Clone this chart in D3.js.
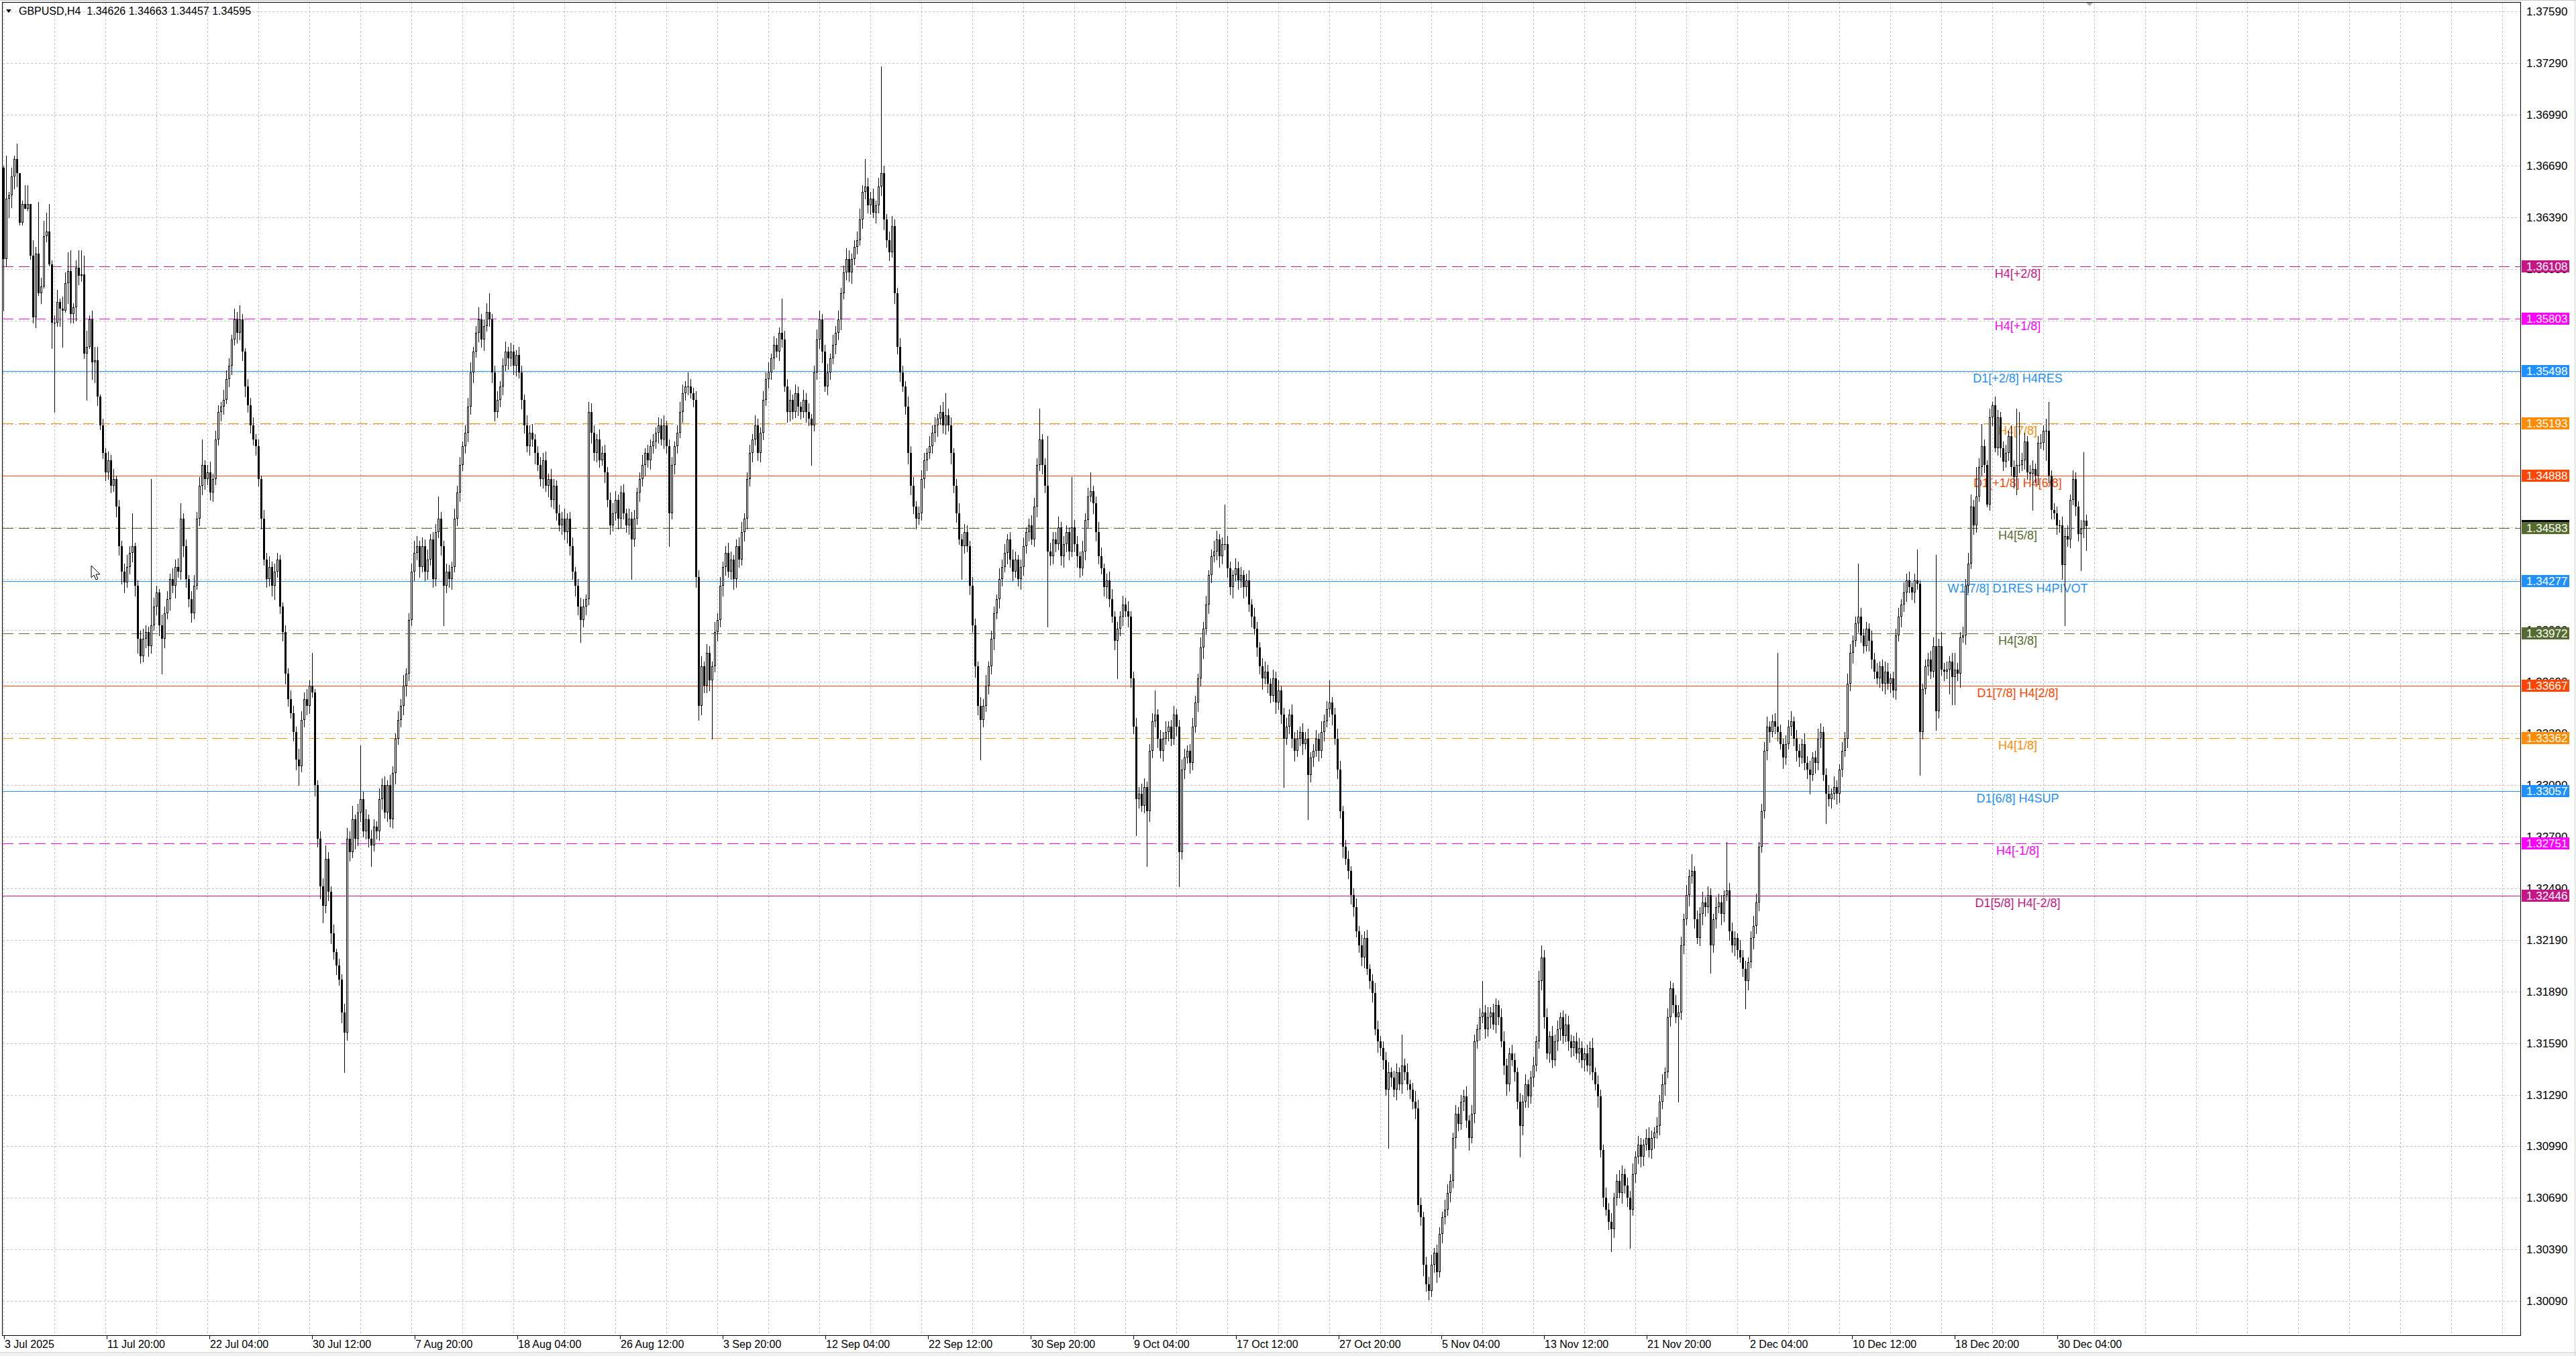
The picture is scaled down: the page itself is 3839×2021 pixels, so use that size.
<!DOCTYPE html>
<html><head><meta charset="utf-8">
<script src="https://cdn.jsdelivr.net/npm/d3@7"></script>
<style>html,body{margin:0;padding:0;background:#fff;overflow:hidden}</style>
</head><body>
<svg id="c" width="3839" height="2021" xmlns="http://www.w3.org/2000/svg"></svg>
<script>
// ---------------- DATA ----------------
const symbolTitle = "GBPUSD,H4";
const lastOHLC = [1.34626, 1.34663, 1.34457, 1.34595];
const firstOpen = 1.3668;
const closes = [
1.3615,1.3650,1.3652,1.3663,1.3673,1.3665,1.3636,1.3647,1.3644,1.3647,
1.3617,1.3581,1.3618,1.3595,1.3599,1.3628,1.3631,1.3612,1.3578,1.3578,
1.3590,1.3586,1.3585,1.3601,1.3608,1.3583,1.3587,1.3610,1.3605,1.3606,
1.3560,1.3564,1.3580,1.3555,1.3556,1.3535,1.3518,1.3502,1.3491,1.3498,
1.3483,1.3487,1.3471,1.3448,1.3433,1.3427,1.3436,1.3444,1.3448,1.3425,
1.3394,1.3384,1.3394,1.3398,1.3390,1.3402,1.3413,1.3421,1.3402,1.3394,
1.3409,1.3417,1.3429,1.3425,1.3436,1.3433,1.3464,1.3448,1.3429,1.3417,
1.3409,1.3425,1.3464,1.3483,1.3495,1.3487,1.3491,1.3479,1.3487,1.3510,
1.3526,1.3529,1.3533,1.3545,1.3553,1.3568,1.3580,1.3572,1.3580,1.3561,
1.3541,1.3530,1.3518,1.3510,1.3506,1.3487,1.3464,1.3440,1.3429,1.3436,1.3425,
1.3433,1.3440,1.3413,1.3398,1.3374,1.3359,1.3351,1.3340,1.3324,1.3320,
1.3347,1.3359,1.3355,1.3367,1.3363,1.3309,1.3278,1.3250,1.3239,1.3266,
1.3247,1.3223,1.3212,1.3204,1.3196,1.3177,1.3165,1.3278,1.3270,1.3289,
1.3278,1.3293,1.3301,1.3282,1.3289,1.3278,1.3274,1.3285,1.3282,1.3301,
1.3309,1.3293,1.3309,1.3289,1.3316,1.3336,1.3347,1.3355,1.3367,1.3374,
1.3405,1.3433,1.3444,1.3448,1.3436,1.3448,1.3433,1.3440,1.3452,1.3429,
1.3456,1.3464,1.3448,1.3425,1.3433,1.3429,1.3436,1.3464,1.3479,1.3495,
1.3506,1.3514,1.3529,1.3549,1.3561,1.3572,1.3580,1.3568,1.3576,1.3584,
1.3580,1.3549,1.3526,1.3533,1.3541,1.3553,1.3561,1.3557,1.3561,1.3553,
1.3559,1.3549,1.3533,1.3518,1.3506,1.3514,1.3510,1.3502,1.3495,1.3487,
1.3498,1.3483,1.3487,1.3475,1.3483,1.3467,1.3460,1.3464,1.3456,1.3464,
1.3448,1.3433,1.3425,1.3413,1.3405,1.3413,1.3417,1.3526,1.3514,1.3502,
1.3510,1.3498,1.3502,1.3491,1.3475,1.3460,1.3467,1.3475,1.3464,1.3479,
1.3467,1.3460,1.3464,1.3452,1.3464,1.3479,1.3487,1.3495,1.3502,1.3498,
1.3506,1.3509,1.3514,1.3518,1.3510,1.3518,1.3506,1.3467,1.3495,1.3506,1.3514,
1.3526,1.3537,1.3541,1.3541,1.3537,1.3533,1.3430,1.3355,1.3378,1.3367,
1.3386,1.3370,1.3378,1.3398,1.3405,1.3425,1.3436,1.3444,1.3433,1.3440,
1.3429,1.3448,1.3440,1.3456,1.3464,1.3487,1.3502,1.3510,1.3518,1.3502,
1.3514,1.3533,1.3545,1.3549,1.3557,1.3565,1.3561,1.3572,1.3568,1.3541,
1.3526,1.3533,1.3526,1.3537,1.3529,1.3526,1.3533,1.3526,1.3522,1.3518,
1.3549,1.3568,1.3580,1.3561,1.3541,1.3549,1.3557,1.3565,1.3572,1.3580,
1.3595,1.3607,1.3615,1.3607,1.3615,1.3622,1.3626,1.3638,1.3654,1.3657,
1.3646,1.3650,1.3642,1.3646,1.3657,1.3665,1.3638,1.3626,1.3619,1.3634,
1.3595,1.3564,1.3549,1.3541,1.3529,1.3502,1.3483,1.3471,1.3464,1.3467,
1.3487,1.3498,1.3502,1.3506,1.3514,1.3518,1.3522,1.3526,1.3518,1.3524,
1.3518,1.3502,1.3483,1.3467,1.3452,1.3448,1.3456,1.3448,1.3425,1.3402,
1.3378,1.3355,1.3347,1.3355,1.3367,1.3378,1.3394,1.3409,1.3417,1.3429,
1.3436,1.3444,1.3452,1.3440,1.3433,1.3440,1.3429,1.3436,1.3448,1.3456,
1.3460,1.3452,1.3471,1.3495,1.3510,1.3495,1.3483,1.3445,1.3442,1.3452,1.3449,
1.3459,1.3442,1.3449,1.3456,1.3445,1.3459,1.3449,1.3442,1.3435,1.3445,
1.3463,1.3477,1.3480,1.3473,1.3456,1.3442,1.3435,1.3424,1.3428,1.3417,
1.3407,1.3393,1.3400,1.3407,1.3414,1.3410,1.3407,1.3371,1.3343,1.3301,
1.3304,1.3297,1.3308,1.3294,1.3329,1.3346,1.3350,1.3336,1.3329,1.3336,
1.3340,1.3343,1.3336,1.3350,1.3343,1.3270,1.3318,1.3325,1.3329,1.3322,
1.3343,1.3357,1.3371,1.3389,1.3400,1.3414,1.3431,1.3442,1.3445,1.3452,
1.3442,1.3449,1.3449,1.3435,1.3424,1.3431,1.3435,1.3428,1.3431,1.3424,
1.3428,1.3414,1.3407,1.3400,1.3389,1.3378,1.3371,1.3375,1.3368,1.3361,
1.3371,1.3357,1.3364,1.3350,1.3336,1.3343,1.3350,1.3336,1.3329,1.3336,
1.3340,1.3333,1.3336,1.3315,1.3325,1.3329,1.3336,1.3329,1.3340,1.3346,
1.3353,1.3357,1.3350,1.3336,1.3318,1.3294,1.3273,1.3266,1.3259,1.3245,
1.3238,1.3224,1.3216,1.3209,1.3220,1.3202,1.3195,1.3188,1.3167,1.3160,
1.3156,1.3149,1.3132,1.3142,1.3139,1.3132,1.3142,1.3135,1.3146,1.3142,
1.3135,1.3132,1.3125,1.3121,1.3065,1.3058,1.3030,1.3019,1.3015,1.3030,
1.3037,1.3026,1.3048,1.3058,1.3062,1.3072,1.3079,1.3104,1.3118,1.3112,1.3125,
1.3128,1.3114,1.3104,1.3118,1.3160,1.3167,1.3174,1.3177,1.3167,1.3174,
1.3177,1.3170,1.3181,1.3174,1.3160,1.3146,1.3135,1.3153,1.3149,1.3142,
1.3125,1.3111,1.3125,1.3135,1.3128,1.3139,1.3146,1.3160,1.3195,1.3209,
1.3174,1.3153,1.3163,1.3149,1.3160,1.3167,1.3174,1.3163,1.3170,1.3160,
1.3156,1.3160,1.3153,1.3156,1.3149,1.3153,1.3146,1.3156,1.3142,1.3135,
1.3128,1.3097,1.3069,1.3062,1.3055,1.3051,1.3069,1.3079,1.3072,1.3083,
1.3076,1.3069,1.3062,1.3083,1.3093,1.3100,1.3093,1.3100,1.3104,1.3097,
1.3104,1.3107,1.3111,1.3125,1.3135,1.3142,1.3174,1.3191,1.3181,1.3174,
1.3177,1.3216,1.3231,1.3245,1.3256,1.3259,1.3231,1.3220,1.3234,1.3241,
1.3238,1.3245,1.3216,1.3231,1.3238,1.3241,1.3234,1.3245,1.3248,1.3224,
1.3216,1.3220,1.3213,1.3209,1.3202,1.3195,1.3206,1.3220,1.3227,1.3241,
1.3273,1.3294,1.3329,1.3343,1.3340,1.3346,1.3343,1.3340,1.3333,1.3325,
1.3333,1.3343,1.3346,1.3336,1.3329,1.3325,1.3333,1.3322,1.3318,1.3315,
1.3325,1.3322,1.3336,1.3340,1.3315,1.3304,1.3301,1.3304,1.3308,1.3304,
1.3318,1.3329,1.3336,1.3368,1.3386,1.3393,1.3403,1.3407,1.3396,1.3390,1.3400,
1.3393,1.3382,1.3375,1.3371,1.3378,1.3368,1.3375,1.3368,1.3371,1.3364,
1.3396,1.3407,1.3414,1.3421,1.3428,1.3424,1.3421,1.3428,1.3426,1.3340,
1.3365,1.3378,1.3382,1.3375,1.3390,1.3352,1.3390,1.3376,1.3375,1.3376,
1.3381,1.3372,1.3376,1.3374,1.3395,1.3396,1.3425,1.3438,1.3471,1.3460,
1.3477,1.3494,1.3506,1.3495,1.3472,1.3523,1.3530,1.3505,1.3523,1.3505,
1.3497,1.3502,1.3512,1.3494,1.3488,1.3495,1.3495,1.3498,1.3509,1.3491,
1.3490,1.3493,1.3489,1.3508,1.3508,1.3515,1.3515,1.3489,1.3469,1.3467,
1.3460,1.3460,1.3437,1.3454,1.3452,1.3475,1.3487,1.3471,1.3455,1.3458,1.34626,1.34595
];
// wick lengths in pips above the body top / below the body bottom
const wickUp = [
1,25,2,5,2,9,0,2,11,11, 0,9,4,30,5,9,11,16,2,4, 7,2,7,6,11,12,2,4,10,14, 11,9,2,5,8,8,1,4,3,5,
3,6,2,4,3,5,7,4,19,2, 3,5,6,4,3,85,5,4,2,6,
4,5,3,6,4,5,9,3,4,2, 5,6,4,5,15,3,4,6,3,5,
4,3,6,5,4,3,6,4,8,3, 2,4,4,5,3,4,2,5,4,6,3,
5,4,3,2,4,3,5,4,3,6, 5,4,6,3,19,2,3,4,5,8,
4,3,5,2,4,3,5,6,4,8, 3,5,31,4,6,3,5,4,3,6,
4,5,3,6,4,3,5,4,6,3, 4,5,7,6,3,5,4,6,3,4,
5,13,4,3,5,4,3,6,4,5, 3,4,5,6,3,4,7,3,4,5,
11,3,4,5,3,4,6,3,5,4, 3,5,4,3,6,4,5,3,4,5,
4,5,3,6,4,3,5,4,6,3, 4,5,3,4,5,4,3,6,5,4,
3,6,4,5,3,4,6,5,3,4, 5,3,6,4,5,3,4,6,3,5,
4,4,3,5,4,6,3,4,5,3,4, 6,5,3,8,4,3,5,4,6,3,
5,4,3,6,4,5,3,4,6,5, 3,4,5,6,3,4,5,3,6,4,
3,5,4,6,3,5,4,3,20,5, 4,6,3,5,4,3,6,4,5,3,
4,6,5,3,4,5,3,6,4,5, 3,4,6,5,3,4,5,6,4,16,
5,4,6,3,5,62,4,3,5,6, 4,3,5,4,3,6,4,5,3,4,
5,4,3,6,4,5,3,4,6,13, 4,5,3,4,6,3,5,4,3,5,
4,3,5,4,6,3,5,4,3,6, 4,5,3,4,6,5,3,4,5,3,
4,6,5,4,18,3,4,29,5,4, 4,6,3,5,4,3,29,4,5,3,6,
4,5,11,3,4,6,5,3,4,5, 6,3,4,3,5,4,6,3,4,5,
4,6,5,3,4,5,14,3,5,4, 6,3,4,5,3,4,6,5,3,4,
5,4,3,6,4,5,3,4,6,5, 3,4,23,5,4,3,6,4,5,3,
4,6,3,5,4,3,5,6,4,3, 5,4,6,3,4,5,3,6,4,5,
3,5,4,6,3,4,5,3,6,4, 5,13,3,4,6,5,3,4,5,3,
4,5,3,6,4,5,3,4,6,5, 3,4,5,6,3,4,5,3,18,4,
5,3,4,6,5,4,3,5,4,6, 3,5,4,3,6,5,4,3,5,4,4,
4,6,3,5,4,3,5,18,4,6, 3,5,4,3,5,6,4,3,5,4,
3,5,4,6,3,4,5,3,6,7, 4,5,3,6,4,5,3,4,6,5,
4,3,5,6,4,3,5,4,6,3, 5,4,3,6,4,5,3,4,6,5,
3,5,4,6,3,5,4,3,5,6, 4,3,5,4,6,3,5,4,3,6,
4,5,3,6,4,10,3,5,4,6, 3,5,4,3,6,5,4,3,28,4,
5,4,3,6,4,5,3,4,6,5, 3,4,5,6,3,4,5,43,4,3,
5,4,6,3,5,4,3,6,4,5, 3,4,6,5,3,4,5,3,6,4,
3,5,4,6,5,3,4,31,5,4, 4,3,6,4,5,3,4,6,5,3,4,
4,5,3,6,4,5,3,4,18,2, 3,4,4,5,5,53,4,8,4,5,
3,5,10,4,3,5,4,6,7,4, 17,5,13,4,3,5,2,5,4,3,
4,5,3,6,4,33,31,4,5,3, 4,5,3,4,5,3,7,17,3,4,
4,3,5,4,6,3,5,4,3,5,40,3.7
];
const wickDn = [
30,4,11,7,7,8,1,1,0,1, 2,3,6,1,6,1,3,1,15,52, 2,10,21,1,12,5,5,8,5,3, 3,27,1,10,12,5,2,3,5,4,
4,3,6,5,7,6,3,4,5,6, 8,4,3,5,6,4,3,5,6,20,
5,3,6,4,7,3,4,6,5,4, 5,3,2,4,5,6,3,4,5,3,
3,5,4,2,4,5,3,6,4,5, 6,4,4,3,5,4,6,3,5,4,6,
8,3,4,5,6,4,3,5,6,11, 3,4,5,4,3,6,5,7,10,4,
5,6,4,5,3,6,23,4,5,3, 6,4,5,3,4,5,12,3,4,5,
6,3,5,4,5,6,3,4,5,6, 4,3,5,4,6,3,5,4,3,5,
4,3,5,23,4,5,6,3,4,5, 3,4,5,4,6,3,5,4,6,3,
4,6,5,3,4,5,3,6,4,5, 6,3,5,4,3,5,4,6,3,4,
5,3,6,4,5,4,3,5,4,6, 5,4,6,5,13,4,5,3,6,4,
5,4,3,6,4,5,3,4,6,5, 3,4,5,23,4,3,5,4,6,4,
5,4,4,6,3,5,4,19,3,5,4, 3,6,4,5,3,4,6,8,5,4,
4,6,34,3,5,4,6,5,3,4, 6,5,4,3,5,6,4,5,3,4,
5,4,3,5,4,6,3,5,4,3, 6,5,4,3,5,4,3,6,4,23,
3,4,5,6,3,5,4,3,5,4, 6,3,4,5,6,3,4,3,5,4,
4,5,3,6,4,5,6,4,5,3, 6,4,5,3,4,6,5,4,6,3,
4,5,6,3,4,5,6,3,4,5, 3,6,4,5,3,19,4,3,5,4,
6,5,23,4,3,5,4,6,3,5, 4,3,6,4,5,3,4,6,5,4,
5,3,4,6,3,5,4,44,5,4, 4,3,5,6,4,5,3,4,6,5,4,
5,4,3,6,5,4,3,5,6,4, 3,5,22,4,5,3,6,5,4,21,
5,3,4,32,6,4,3,5,4,6, 3,5,4,3,5,20,4,5,3,6,
4,3,5,4,6,3,5,4,3,5, 6,4,3,5,4,6,3,5,4,6,
5,4,6,3,5,4,6,3,5,4, 3,6,4,5,28,3,4,5,6,3,
4,6,3,26,4,5,3,6,4,5, 3,4,6,3,5,4,6,3,4,5,
5,3,4,5,6,3,4,5,3,6, 4,5,3,34,5,4,6,3,5,4,
3,5,4,6,4,5,6,4,5,3, 4,6,3,5,4,3,5,4,6,4,3,
5,4,7,3,5,4,6,3,5,4, 6,3,5,4,3,5,6,4,3,5,
4,18,5,3,6,4,5,3,4,5, 6,3,5,4,3,5,6,4,3,5,
5,4,3,5,4,6,3,5,4,3, 6,4,5,3,4,13,5,4,3,6,
4,5,22,3,5,4,6,5,3,4, 5,6,3,5,4,6,3,5,4,3,
49,4,5,3,6,4,5,3,4,6, 5,3,16,4,5,3,6,4,3,5,
4,6,5,3,4,16,5,3,6,4, 5,3,4,5,6,3,4,5,3,6,
4,3,5,4,6,5,3,4,5,11, 3,6,4,5,3,17,4,5,3,6,
5,4,3,5,4,6,3,5,4,4, 3,6,5,4,3,5,4,6,3,5,4,
5,3,6,4,5,3,4,6,3,25, 4,3,5,4,3,11,4,3,5,4,
14,16,16,4,8,3,5,4,3,5, 4,3,5,4,1,3,5,2,4,5,
5,3,4,5,6,10,4,3,5,4, 3,21,4,5,3,4,17,4,5,3,
5,4,8,35,4,5,3,5,4,21,5,13.8
];
const timeLabels = ["3 Jul 2025","11 Jul 20:00","22 Jul 04:00","30 Jul 12:00","7 Aug 20:00","18 Aug 04:00","26 Aug 12:00","3 Sep 20:00","12 Sep 04:00","22 Sep 12:00","30 Sep 20:00","9 Oct 04:00","17 Oct 12:00","27 Oct 20:00","5 Nov 04:00","13 Nov 12:00","21 Nov 20:00","2 Dec 04:00","10 Dec 12:00","18 Dec 20:00","30 Dec 04:00"];
const barsPerLabel = 38.25;
const priceTicks = [1.37590,1.37290,1.36990,1.36690,1.36390,1.36090,1.35790,1.35490,1.35190,1.34890,1.34590,1.34290,1.33990,1.33690,1.33390,1.33090,1.32790,1.32490,1.32190,1.31890,1.31590,1.31290,1.30990,1.30690,1.30390,1.30090];
const levelPrices = [1.36108,1.35803,1.35498,1.35193,1.34888,1.34583,1.34277,1.33972,1.33667,1.33362,1.33057,1.32751,1.32446];
const levelNames = ["H4[+2/8]","H4[+1/8]","D1[+2/8] H4RES","H4[7/8]","D1[+1/8] H4[6/8]","H4[5/8]","W1[7/8] D1RES H4PIVOT","H4[3/8]","D1[7/8] H4[2/8]","H4[1/8]","D1[6/8] H4SUP","H4[-1/8]","D1[5/8] H4[-2/8]"];

// ---------------- STYLE ----------------
const levelColors = ["#C71585","#FF00FF","#1E90FF","#FF8C00","#FF4500","#556B2F","#1E90FF","#556B2F","#FF4500","#FF8C00","#1E90FF","#FF00FF","#C71585"];
const levelDashed = [true,true,false,true,false,true,false,true,false,true,false,true,false];
const FONT = "'Liberation Sans', Arial, sans-serif";
const L = 4, T = 4, R = 3756, B = 1990;

// ---------------- BUILD BARS ----------------
const n = Math.min(closes.length, wickUp.length, wickDn.length);
const bars = [];
for (let i = 0; i < n; i++) {
  let o = i === 0 ? firstOpen : closes[i-1];
  let c = closes[i];
  let h = Math.max(o, c) + wickUp[i] * 1e-4;
  let l = Math.min(o, c) - wickDn[i] * 1e-4;
  if (i === n - 1) { o = lastOHLC[0]; h = lastOHLC[1]; l = lastOHLC[2]; c = lastOHLC[3]; }
  bars.push({i, o, h, l, c});
}

// ---------------- SCALES ----------------
const x = d3.scaleLinear().domain([0, (R - 5) / 4]).range([5, R]);
const y = d3.scaleLinear().domain([1.30090, 1.37590]).range([1939.2, 16.7]);

const svg = d3.select("#c");
svg.append("rect").attr("width", 3839).attr("height", 2021).attr("fill", "#fff");
svg.append("rect").attr("x", 0).attr("y", 2015).attr("width", 3839).attr("height", 6).attr("fill", "#f0f0f0");
svg.append("line").attr("x1", 0).attr("x2", 3839).attr("y1", 2015.5).attr("y2", 2015.5).attr("stroke", "#d8d8d8");
svg.append("line").attr("x1", 0).attr("x2", 3839).attr("y1", 0.5).attr("y2", 0.5).attr("stroke", "#c8c8c8");
svg.append("line").attr("x1", 3837.5).attr("x2", 3837.5).attr("y1", 0).attr("y2", 2021).attr("stroke", "#d0d0d0");

svg.append("defs").append("clipPath").attr("id", "plot")
  .append("rect").attr("x", L).attr("y", T).attr("width", R - L).attr("height", B - T);
const plot = svg.append("g").attr("clip-path", "url(#plot)");

// grid
const gridG = plot.append("g").attr("stroke", "#c4c4c4").attr("stroke-width", 1)
  .attr("stroke-dasharray", "3,3").attr("shape-rendering", "crispEdges");
const vIdx = d3.range(0, (R - 5) / 4, 19);
gridG.selectAll("line.v").data(vIdx).join("line").attr("class", "v")
  .attr("x1", d => Math.round(x(d)) + 0.5).attr("x2", d => Math.round(x(d)) + 0.5)
  .attr("y1", T).attr("y2", B);
gridG.selectAll("line.h").data(priceTicks).join("line").attr("class", "h")
  .attr("x1", L).attr("x2", R)
  .attr("y1", d => Math.round(y(d)) + 0.5).attr("y2", d => Math.round(y(d)) + 0.5);

// level lines + texts (behind candles)
const lv = levelPrices.map((p, k) => ({p, name: levelNames[k], color: levelColors[k], dashed: levelDashed[k]}));
plot.append("g").selectAll("line").data(lv).join("line")
  .attr("x1", L).attr("x2", R)
  .attr("y1", d => Math.round(y(d.p)) + 0.5).attr("y2", d => Math.round(y(d.p)) + 0.5)
  .attr("stroke", d => d.color).attr("stroke-width", 1)
  .attr("stroke-dasharray", d => d.dashed ? "16,8" : null)
  .attr("shape-rendering", "crispEdges");
plot.append("g").selectAll("text").data(lv).join("text")
  .attr("x", 3007).attr("y", d => Math.round(y(d.p)) + 17)
  .attr("text-anchor", "middle").attr("font-family", FONT).attr("font-size", 18)
  .attr("fill", d => d.color).text(d => d.name);

// candles
const cg = plot.append("g").attr("shape-rendering", "crispEdges");
cg.selectAll("line.w").data(bars).join("line").attr("class", "w")
  .attr("x1", d => Math.round(x(d.i)) + 0.5).attr("x2", d => Math.round(x(d.i)) + 0.5)
  .attr("y1", d => Math.round(y(d.h))).attr("y2", d => Math.round(y(d.l)) + 1)
  .attr("stroke", "#000").attr("stroke-width", 1);
cg.selectAll("rect.b").data(bars).join("rect").attr("class", "b")
  .each(function(d) {
    const px = Math.round(x(d.i));
    const yt = Math.round(y(Math.max(d.o, d.c)));
    const yb = Math.round(y(Math.min(d.o, d.c)));
    const hgt = yb - yt;
    const sel = d3.select(this);
    if (d.c > d.o && hgt >= 2) {
      sel.attr("x", px - 0.5).attr("y", yt + 0.5).attr("width", 2).attr("height", hgt - 1)
        .attr("fill", "#fff").attr("stroke", "#000").attr("stroke-width", 1);
    } else {
      sel.attr("x", px - 1).attr("y", yt).attr("width", 3).attr("height", Math.max(1, hgt))
        .attr("fill", "#000");
    }
  });

// frame
svg.append("rect").attr("x", L - 0.5).attr("y", T - 0.5).attr("width", R - L + 1).attr("height", B - T + 1)
  .attr("fill", "none").attr("stroke", "#000").attr("stroke-width", 1).attr("shape-rendering", "crispEdges");

// chart shift marker
svg.append("path").attr("d", "M3109,4 L3119,4 L3114,9 Z").attr("fill", "#a8a8a8");

// right axis labels
svg.append("g").selectAll("text").data(priceTicks).join("text")
  .attr("x", 3765).attr("y", d => Math.round(y(d)) + 6)
  .attr("font-family", FONT).attr("font-size", 17).attr("fill", "#000")
  .text(d => d.toFixed(5));

// bid price label (black), then level labels on top
const tagG = svg.append("g");
function tag(p, color) {
  const yy = Math.round(y(p));
  tagG.append("rect").attr("x", 3758).attr("y", yy - 9).attr("width", 71).attr("height", 18).attr("fill", color);
  tagG.append("text").attr("x", 3765).attr("y", yy + 6).attr("font-family", FONT).attr("font-size", 17)
    .attr("fill", "#fff").text(p.toFixed(5));
}
tag(lastOHLC[3], "#000");
lv.forEach(d => tag(d.p, d.color));

// bottom axis
const labelIdx = timeLabels.map((t, k) => ({t, i: k * barsPerLabel}));
const xa = svg.append("g");
xa.selectAll("line").data(labelIdx).join("line")
  .attr("x1", d => Math.round(x(d.i)) + 1.5).attr("x2", d => Math.round(x(d.i)) + 1.5)
  .attr("y1", B).attr("y2", B + 6).attr("stroke", "#000").attr("shape-rendering", "crispEdges");
xa.selectAll("text").data(labelIdx).join("text")
  .attr("x", d => Math.round(x(d.i)) + 2).attr("y", 2009)
  .attr("font-family", FONT).attr("font-size", 16).attr("fill", "#000").text(d => d.t);

// header
svg.append("path").attr("d", "M9,14 L17,14 L13,19 Z").attr("fill", "#000");
svg.append("text").attr("x", 28).attr("y", 22).attr("font-family", FONT).attr("font-size", 16)
  .attr("fill", "#000").style("white-space", "pre")
  .text(symbolTitle + "  " + lastOHLC.map(v => v.toFixed(5)).join(" "));

// mouse cursor
svg.append("path").attr("d", "M136,843 L136,861 L140,857 L143,864 L146,863 L143,856 L149,856 Z")
  .attr("fill", "#fff").attr("stroke", "#000").attr("stroke-width", 1);
</script>
</body></html>
